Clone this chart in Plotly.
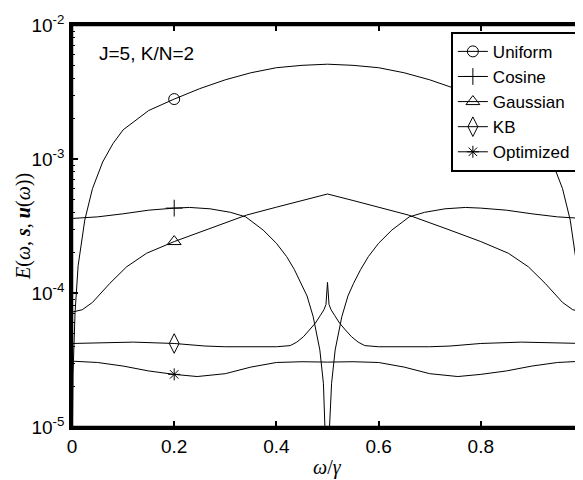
import plotly.graph_objects as go

# ---------------- data ----------------
x_ticks = [0, 0.2, 0.4, 0.6, 0.8, 1.0]
x_tick_text = ["0", "0.2", "0.4", "0.6", "0.8", "1"]
y_ticks = [1e-5, 1e-4, 1e-3, 1e-2]
y_tick_text = ["10<sup>-5</sup>", "10<sup>-4</sup>", "10<sup>-3</sup>", "10<sup>-2</sup>"]
y_minor_ticks = [m * 10.0 ** e for e in (-5, -4, -3) for m in range(2, 10)]

uniform_x = [0, 0.002, 0.006, 0.012, 0.025, 0.04, 0.06, 0.08, 0.1, 0.15, 0.2, 0.25, 0.3, 0.35, 0.4, 0.45, 0.5,
             0.55, 0.6, 0.65, 0.7, 0.75, 0.8, 0.85, 0.9, 0.92, 0.94, 0.96, 0.975, 0.988, 0.994, 0.998, 1.0]
uniform_y = [5e-6, 2.5e-5, 7.2e-5, 1.6e-4, 3.5e-4, 6.0e-4, 9.5e-4, 1.3e-3, 1.65e-3, 2.3e-3, 2.8e-3, 3.35e-3,
             3.9e-3, 4.4e-3, 4.8e-3, 5.0e-3, 5.1e-3,
             5.0e-3, 4.8e-3, 4.4e-3, 3.9e-3, 3.35e-3, 2.8e-3, 2.3e-3, 1.65e-3, 1.3e-3, 9.5e-4, 6.0e-4, 3.5e-4,
             1.6e-4, 7.2e-5, 2.5e-5, 5e-6]

cosine_x = [0, 0.05, 0.1, 0.15, 0.2, 0.23, 0.27, 0.31, 0.34, 0.374, 0.4, 0.42, 0.435, 0.449, 0.46, 0.472, 0.485,
            0.492, 0.496, 0.4985, 0.5,
            0.5015, 0.504, 0.508, 0.515, 0.528, 0.54, 0.551, 0.565, 0.58, 0.6, 0.626, 0.66, 0.69, 0.73, 0.77, 0.8,
            0.85, 0.9, 0.95, 1.0]
cosine_y = [3.6e-4, 3.7e-4, 3.9e-4, 4.15e-4, 4.3e-4, 4.35e-4, 4.25e-4, 4.0e-4, 3.7e-4, 2.95e-4, 2.35e-4, 1.87e-4,
            1.5e-4, 1.18e-4, 9.5e-5, 6.65e-5, 3.76e-5, 2.12e-5, 1.0e-5, 4e-6, 1e-6,
            4e-6, 1.0e-5, 2.12e-5, 3.76e-5, 6.65e-5, 9.5e-5, 1.18e-4, 1.5e-4, 1.87e-4, 2.35e-4, 2.95e-4, 3.7e-4,
            4.0e-4, 4.25e-4, 4.35e-4, 4.3e-4, 4.15e-4, 3.9e-4, 3.7e-4, 3.6e-4]

gaussian_x = [0, 0.02, 0.04, 0.074, 0.107, 0.146, 0.2, 0.27, 0.342, 0.4, 0.45, 0.5,
              0.55, 0.6, 0.658, 0.73, 0.8, 0.854, 0.893, 0.926, 0.96, 0.98, 1.0]
gaussian_y = [7.2e-5, 7.5e-5, 8.5e-5, 1.18e-4, 1.57e-4, 1.98e-4, 2.42e-4, 3.04e-4, 3.82e-4, 4.37e-4, 4.9e-4, 5.48e-4,
              4.9e-4, 4.37e-4, 3.82e-4, 3.04e-4, 2.42e-4, 1.98e-4, 1.57e-4, 1.18e-4, 8.5e-5, 7.5e-5, 7.2e-5]

kb_x = [0, 0.06, 0.12, 0.2, 0.26, 0.3, 0.35, 0.4, 0.427, 0.44, 0.453, 0.465, 0.476, 0.486, 0.493, 0.497, 0.5,
        0.503, 0.507, 0.514, 0.524, 0.535, 0.547, 0.56, 0.573, 0.6, 0.65, 0.7, 0.74, 0.8, 0.88, 0.94, 1.0]
kb_y = [4.2e-5, 4.25e-5, 4.3e-5, 4.2e-5, 4.02e-5, 3.97e-5, 3.95e-5, 3.97e-5, 4.05e-5, 4.3e-5, 4.72e-5, 5.3e-5,
        5.94e-5, 6.8e-5, 7.5e-5, 8.2e-5, 1.2e-4,
        8.2e-5, 7.5e-5, 6.8e-5, 5.94e-5, 5.3e-5, 4.72e-5, 4.3e-5, 4.05e-5, 3.97e-5, 3.95e-5, 3.97e-5, 4.02e-5,
        4.2e-5, 4.3e-5, 4.25e-5, 4.2e-5]

optimized_x = [0, 0.05, 0.1, 0.15, 0.2, 0.245, 0.3, 0.35, 0.4, 0.45, 0.5,
               0.55, 0.6, 0.65, 0.7, 0.755, 0.8, 0.85, 0.9, 0.95, 1.0]
optimized_y = [3.1e-5, 3.03e-5, 2.85e-5, 2.62e-5, 2.47e-5, 2.38e-5, 2.5e-5, 2.8e-5, 3.03e-5, 3.07e-5, 3.05e-5,
               3.07e-5, 3.03e-5, 2.8e-5, 2.5e-5, 2.38e-5, 2.47e-5, 2.62e-5, 2.85e-5, 3.03e-5, 3.1e-5]

series_names = ["Uniform", "Cosine", "Gaussian", "KB", "Optimized"]
marker_x = 0.2

x_title = "<i>ω</i>/<i>γ</i>"
y_title = "<i>E</i>(<i>ω</i>, <b><i>s</i></b>, <b><i>u</i></b>(<i>ω</i>))"
note_text = "J=5, K/N=2"

# ---------------- figure ----------------
series = [
    (series_names[0], uniform_x, uniform_y, "circle-open", 11),
    (series_names[1], cosine_x, cosine_y, "cross-thin-open", 12),
    (series_names[2], gaussian_x, gaussian_y, "triangle-up-open", 12),
    (series_names[3], kb_x, kb_y, "diamond-tall-open", 14),
    (series_names[4], optimized_x, optimized_y, "asterisk-open", 10),
]

fig = go.Figure()
for name, xs, ys, sym, sz in series:
    fig.add_trace(go.Scatter(x=xs, y=ys, mode="lines", line=dict(color="black", width=1),
                             showlegend=False, hoverinfo="skip"))
    i = xs.index(marker_x)
    fig.add_trace(go.Scatter(x=[xs[i]], y=[ys[i]], mode="lines+markers", name=name,
                             line=dict(color="black", width=1),
                             marker=dict(symbol=sym, size=sz, color="black",
                                         line=dict(color="black", width=1))))

serif = "Liberation Serif, Times New Roman, serif"
sans = "Liberation Sans, Arial, Helvetica, sans-serif"

# the page body adds an 8 px margin, so the figure is sized to fit the 583x480 window
fig.update_layout(
    width=575, height=472,
    margin=dict(l=64, r=0, t=17, b=53),
    paper_bgcolor="white", plot_bgcolor="white",
    font=dict(family=sans, size=19, color="black"),
    xaxis=dict(range=[0, 1], tickvals=x_ticks, ticktext=x_tick_text, automargin=False,
               ticks="inside", ticklen=6, tickwidth=1.5, tickcolor="black",
               showline=True, linewidth=2.5, linecolor="black", mirror="ticks",
               showgrid=False, zeroline=False),
    yaxis=dict(type="log", range=[-5, -2], tickmode="array", tickvals=y_ticks, ticktext=y_tick_text,
               automargin=False,
               ticks="inside", ticklen=6, tickwidth=1.5, tickcolor="black",
               minor=dict(tickmode="array", tickvals=y_minor_ticks, ticks="inside", ticklen=3,
                          tickwidth=1, tickcolor="black", showgrid=False),
               showline=True, linewidth=2.5, linecolor="black", mirror="ticks",
               showgrid=False, zeroline=False, ticklabelstandoff=1),
    legend=dict(x=0.988, y=0.983, xanchor="right", yanchor="top",
                bordercolor="black", borderwidth=2, bgcolor="white",
                font=dict(family=sans, size=17), tracegroupgap=0, itemwidth=30),
    shapes=[dict(type="rect", xref="paper", yref="paper", x0=0, x1=1, y0=0, y1=1,
                 line=dict(color="black", width=2.5), layer="above")],
    annotations=[
        dict(text=note_text, x=0.048, y=0.93, xref="paper", yref="paper",
             xanchor="left", yanchor="middle", showarrow=False, font=dict(family=sans, size=19)),
        dict(text=x_title, x=0.5, y=-0.1, xref="paper", yref="paper",
             xanchor="center", yanchor="middle", showarrow=False, font=dict(family=serif, size=20)),
        dict(text=y_title, x=-0.096, y=0.5, xref="paper", yref="paper", textangle=-90,
             xanchor="center", yanchor="middle", showarrow=False, font=dict(family=serif, size=20)),
    ],
)

fig.write_html("out.html")
